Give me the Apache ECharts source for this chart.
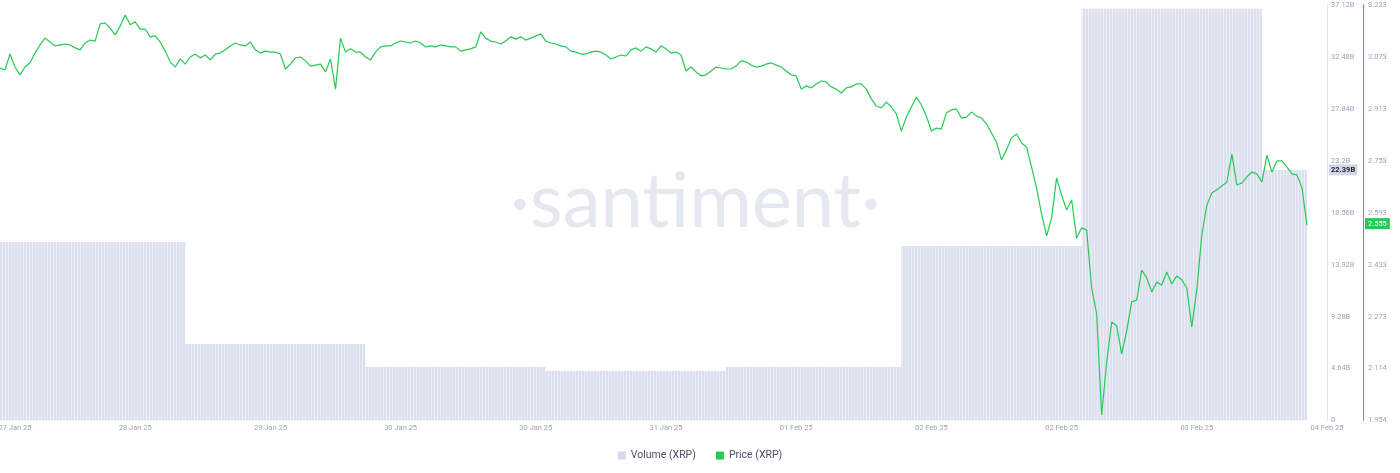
<!DOCTYPE html>
<html>
<head>
<meta charset="utf-8">
<script src="https://cdn.jsdelivr.net/npm/echarts@6/dist/echarts.min.js"></script>
<style>
html,body{margin:0;padding:0;background:#fff;}
#chart{width:1400px;height:473px;}
</style>
</head>
<body>
<div id="chart"></div>
<script>
// ---- data ----
const xTickIndex = [3, 27, 54, 80, 107, 133, 159, 186, 212, 239, 265];
const xTickLabels = ['27 Jan 25','28 Jan 25','29 Jan 25','30 Jan 25','30 Jan 25','31 Jan 25','01 Feb 25','02 Feb 25','02 Feb 25','03 Feb 25','04 Feb 25'];
const xCount = 266;

// daily volume blocks (billions XRP) and their start slot
const volumeB = [15.95, 6.84, 4.78, 4.42, 4.78, 15.60, 36.78, 22.39];
const volumeStart = [0, 37, 73, 109, 145, 180, 216, 252];
const volumeEnd = 261;

const volTickLabels = ['0','4.64B','9.28B','13.92B','18.56B','23.2B','27.84B','32.48B','37.12B'];
const priceTickLabels = ['1.954','2.114','2.273','2.433','2.593','2.753','2.913','3.073','3.233'];

const price = [
3.039,3.033,3.082,3.042,3.018,3.042,3.055,3.085,3.110,3.131,
3.119,3.107,3.110,3.113,3.110,3.101,3.095,3.116,3.125,3.122,
3.175,3.178,3.162,3.141,3.168,3.202,3.172,3.181,3.159,3.159,
3.135,3.138,3.119,3.091,3.058,3.042,3.067,3.051,3.073,3.082,
3.070,3.079,3.064,3.082,3.085,3.095,3.107,3.116,3.110,3.107,
3.119,3.095,3.085,3.091,3.088,3.088,3.082,3.036,3.051,3.070,
3.073,3.061,3.045,3.048,3.051,3.027,3.067,2.974,3.131,3.088,
3.098,3.088,3.088,3.073,3.064,3.088,3.104,3.107,3.107,3.116,
3.122,3.119,3.116,3.122,3.116,3.104,3.107,3.104,3.110,3.107,
3.104,3.104,3.091,3.095,3.098,3.104,3.150,3.131,3.122,3.119,
3.113,3.122,3.135,3.128,3.135,3.125,3.131,3.138,3.144,3.122,
3.116,3.113,3.107,3.104,3.091,3.088,3.082,3.082,3.088,3.091,
3.088,3.079,3.067,3.073,3.079,3.076,3.095,3.101,3.091,3.104,
3.098,3.088,3.107,3.098,3.085,3.088,3.079,3.030,3.042,3.027,
3.015,3.018,3.030,3.042,3.039,3.036,3.036,3.045,3.061,3.058,
3.048,3.042,3.045,3.051,3.055,3.048,3.042,3.030,3.018,3.015,
2.974,2.984,2.978,2.990,2.999,2.996,2.981,2.974,2.962,2.978,
2.981,2.990,2.990,2.974,2.944,2.922,2.916,2.934,2.919,2.898,
2.845,2.888,2.919,2.950,2.925,2.891,2.845,2.854,2.851,2.901,
2.910,2.913,2.885,2.888,2.904,2.891,2.885,2.867,2.839,2.811,
2.756,2.787,2.824,2.836,2.808,2.796,2.734,2.670,2.590,2.522,
2.577,2.701,2.648,2.602,2.633,2.516,2.547,2.540,2.362,2.282,
1.971,2.134,2.257,2.245,2.159,2.230,2.319,2.325,2.417,2.393,
2.350,2.380,2.371,2.411,2.374,2.399,2.387,2.362,2.242,2.356,
2.525,2.617,2.654,2.664,2.676,2.688,2.774,2.679,2.685,2.704,
2.719,2.713,2.688,2.771,2.719,2.753,2.753,2.734,2.713,2.710,
2.670,2.555
];
const lastPrice = 2.555;
const lastVolume = 22.39;

// ---- chart ----
const xCats = Array.from({length: xCount}, (_, i) => String(i));
const volData = volumeStart.map((s, i) => [s, volumeB[i]]);
volData.push([volumeEnd, volumeB[volumeB.length - 1]]);

const pc = document.createElement('canvas');
pc.width = 3; pc.height = 4;
const pctx = pc.getContext('2d');
pctx.fillStyle = '#dcdfee';
pctx.fillRect(0, 0, 3, 4);
pctx.fillStyle = '#eceef7';
pctx.fillRect(2, 0, 1, 4);

const GREEN = '#26c953';
const LABEL = '#9ea4ba';
const FONT = 'Roboto, "Open Sans", sans-serif';

const chart = echarts.init(document.getElementById('chart'), null, {renderer: 'canvas'});
chart.setOption({
  animation: false,
  backgroundColor: '#ffffff',
  textStyle: {fontFamily: FONT},
  graphic: [{
    type: 'text',
    left: 510,
    top: 164,
    z: 0,
    style: {
      text: '·santiment·',
      font: 'normal 76px Lato, "Open Sans", sans-serif',
      fill: '#e6e8ef'
    }
  }],
  legend: {
    bottom: 7,
    left: 'center',
    icon: 'rect',
    itemWidth: 8,
    itemHeight: 8,
    itemGap: 20,
    textStyle: {fontSize: 10.5, color: '#4b5068', fontFamily: FONT},
    data: [
      {name: 'Volume (XRP)', itemStyle: {color: '#d6d9ea'}},
      {name: 'Price (XRP)', itemStyle: {color: GREEN}}
    ]
  },
  grid: {left: 0, right: 73, top: 5, bottom: 52.5, containLabel: false, outerBoundsMode: 'none'},
  xAxis: {
    type: 'category',
    data: xCats,
    boundaryGap: false,
    axisLine: {show: false},
    axisTick: {show: false},
    splitLine: {show: false},
    axisLabel: {
      interval: (idx) => xTickIndex.indexOf(idx) >= 0,
      formatter: (v, idx) => xTickLabels[xTickIndex.indexOf(idx)] || '',
      color: LABEL,
      fontSize: 7.5,
      margin: 4
    }
  },
  yAxis: [
    {
      type: 'value',
      position: 'right',
      min: 0,
      max: 37.12,
      interval: 4.64,
      splitLine: {show: false},
      axisTick: {show: false},
      axisLine: {show: true, lineStyle: {color: '#e3e5ee', width: 1}},
      axisLabel: {
        color: LABEL,
        fontSize: 7.5,
        margin: 4,
        formatter: (v) => volTickLabels[Math.round(v / 4.64)]
      }
    },
    {
      type: 'value',
      position: 'right',
      offset: 36,
      min: 1.954,
      max: 3.233,
      interval: 0.159875,
      splitLine: {show: false},
      axisTick: {show: false},
      axisLine: {show: true, lineStyle: {color: GREEN, width: 1}},
      axisLabel: {
        color: LABEL,
        fontSize: 7.5,
        margin: 5,
        formatter: (v) => priceTickLabels[Math.round((v - 1.954) / 0.159875)]
      }
    }
  ],
  series: [
    {
      name: 'Volume (XRP)',
      type: 'line',
      step: 'end',
      yAxisIndex: 0,
      data: volData,
      symbol: 'none',
      z: 1,
      itemStyle: {color: '#d6d9ea'},
      lineStyle: {width: 0},
      areaStyle: {color: {image: pc, repeat: 'repeat'}, opacity: 1},
      markLine: {
        silent: true,
        symbol: 'none',
        lineStyle: {color: 'rgba(0,0,0,0)', width: 0},
        data: [{yAxis: lastVolume}],
        label: {
          show: true,
          position: 'end',
          distance: 2,
          formatter: () => lastVolume.toFixed(2) + 'B',
          backgroundColor: '#d3d6e6',
          color: '#1f2233',
          fontWeight: 'bold',
          fontSize: 7.5,
          padding: [2, 2, 1, 2]
        }
      }
    },
    {
      name: 'Price (XRP)',
      type: 'line',
      yAxisIndex: 1,
      data: price,
      symbol: 'none',
      z: 3,
      itemStyle: {color: GREEN},
      lineStyle: {width: 1.2, color: GREEN},
      markLine: {
        silent: true,
        symbol: 'none',
        lineStyle: {color: 'rgba(0,0,0,0)', width: 0},
        data: [{yAxis: lastPrice}],
        label: {
          show: true,
          position: 'end',
          distance: 38,
          formatter: () => lastPrice.toFixed(3),
          backgroundColor: GREEN,
          color: '#ffffff',
          fontSize: 7.5,
          padding: [2, 3, 1, 3]
        }
      }
    }
  ]
});
</script>
</body>
</html>
